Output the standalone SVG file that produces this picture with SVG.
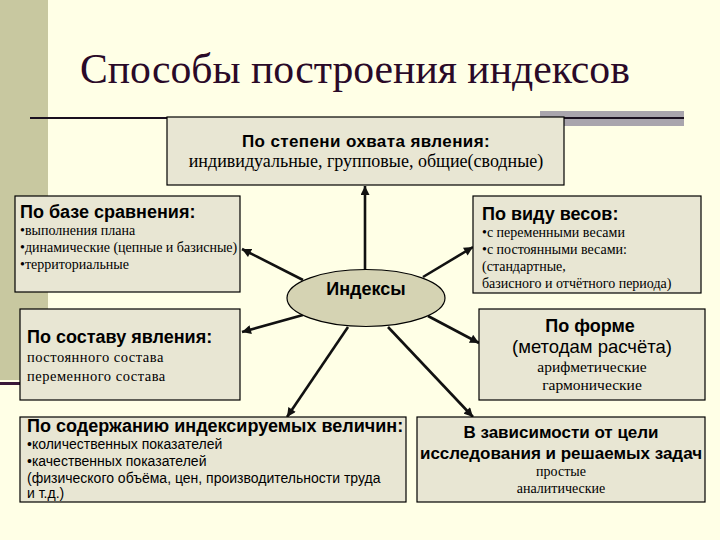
<svg xmlns="http://www.w3.org/2000/svg" width="720" height="540" viewBox="0 0 720 540">
<defs>
<style>
.box{fill:#E8E6D3;stroke:#000;stroke-width:1.2}
.h{font-family:"Liberation Sans",Arial,sans-serif;font-weight:bold;fill:#000}
.s{font-family:"Liberation Sans",Arial,sans-serif;fill:#000}
.t{font-family:"Liberation Serif","Times New Roman",serif;fill:#000}
.c{stroke:#111;stroke-width:2.6;fill:none;marker-end:url(#ah)}
</style>
<marker id="ah" markerUnits="userSpaceOnUse" viewBox="0 0 10 10" refX="10" refY="5" markerWidth="10" markerHeight="9" orient="auto">
<path d="M0,0 L10,5 L0,10 z" fill="#111"/>
</marker>
</defs>
<rect x="0" y="0" width="720" height="540" fill="#FFFFE6"/>
<rect x="0" y="0" width="48" height="380" fill="#C8C8A0"/>
<line x1="0" y1="383.5" x2="60" y2="383.5" stroke="#3A1838" stroke-width="3"/>
<rect x="540" y="111" width="144" height="15" fill="#A9A5AD"/>
<line x1="30" y1="118" x2="684" y2="118" stroke="#1A1020" stroke-width="2.2"/>
<text x="80" y="83" font-family="'Liberation Serif','Times New Roman',serif" font-size="41.7" fill="#2A0A28">Способы построения индексов</text>

<g id="connectors">
<line class="c" x1="365" y1="270" x2="365" y2="186"/>
<line class="c" x1="303" y1="280" x2="242" y2="249"/>
<line class="c" x1="423" y1="277" x2="473" y2="247"/>
<line class="c" x1="303" y1="315" x2="242" y2="332"/>
<line class="c" x1="428" y1="316" x2="479" y2="343"/>
<line class="c" x1="348" y1="327" x2="287" y2="417"/>
<line class="c" x1="388" y1="327" x2="473" y2="417"/>
</g>

<g id="n-coverage">
<rect class="box" x="167" y="117" width="397" height="68"/>
<text class="h" x="366" y="147" font-size="17" letter-spacing="0.4" text-anchor="middle">По степени охвата явления:</text>
<text class="t" x="366" y="167" font-size="18" text-anchor="middle">индивидуальные, групповые, общие(сводные)</text>
</g>

<g id="n-base">
<rect class="box" x="15" y="196" width="225" height="96"/>
<text class="h" x="20" y="218" font-size="18">По базе сравнения:</text>
<text class="t" x="20" y="235" font-size="14">•выполнения плана</text>
<text class="t" x="20" y="252" font-size="14">•динамические (цепные и базисные)</text>
<text class="t" x="20" y="269" font-size="14">•территориальные</text>
</g>

<g id="n-weights">
<rect class="box" x="473" y="196" width="228" height="97"/>
<text class="h" x="482" y="220" font-size="18">По виду весов:</text>
<text class="t" x="482" y="237" font-size="14">•с переменными весами</text>
<text class="t" x="482" y="254" font-size="14">•с постоянными весами:</text>
<text class="t" x="482" y="271" font-size="14">(стандартные,</text>
<text class="t" x="482" y="288" font-size="14">базисного и отчётного периода)</text>
</g>

<g id="n-index">
<ellipse cx="366" cy="298" rx="79" ry="28.5" fill="#D5D3B3" stroke="#000" stroke-width="1.2"/>
<text class="h" x="366" y="295" font-size="18" text-anchor="middle">Индексы</text>
</g>

<g id="n-composition">
<rect class="box" x="20" y="309" width="220" height="91"/>
<text class="h" x="27" y="343" font-size="18">По составу явления:</text>
<text class="t" x="27" y="362" font-size="14.5" letter-spacing="0.5">постоянного состава</text>
<text class="t" x="27" y="381" font-size="14.5" letter-spacing="0.5">переменного состава</text>
</g>

<g id="n-form">
<rect class="box" x="479" y="309" width="226" height="91"/>
<text class="h" x="590" y="332" font-size="18" text-anchor="middle">По форме</text>
<text class="s" x="592" y="353" font-size="18.5" text-anchor="middle">(методам расчёта)</text>
<text class="t" x="592" y="372" font-size="15.5" text-anchor="middle">арифметические</text>
<text class="t" x="592" y="390" font-size="15.5" text-anchor="middle">гармонические</text>
</g>

<g id="n-content">
<rect class="box" x="20" y="417" width="386" height="85"/>
<text class="h" x="27" y="432" font-size="18">По содержанию индексируемых величин:</text>
<text class="s" x="27" y="449" font-size="14">•количественных показателей</text>
<text class="s" x="27" y="466" font-size="14">•качественных показателей</text>
<text class="s" x="27" y="483" font-size="14">(физического объёма, цен, производительности труда</text>
<text class="s" x="27" y="498" font-size="14">и т.д.)</text>
</g>

<g id="n-purpose">
<rect class="box" x="417" y="417" width="288" height="85"/>
<text class="h" x="561" y="438" font-size="17" text-anchor="middle">В зависимости от цели</text>
<text class="h" x="561" y="459" font-size="17" text-anchor="middle">исследования и решаемых задач</text>
<text class="t" x="561" y="476" font-size="14" text-anchor="middle">простые</text>
<text class="t" x="561" y="493" font-size="14" text-anchor="middle">аналитические</text>
</g>
</svg>
